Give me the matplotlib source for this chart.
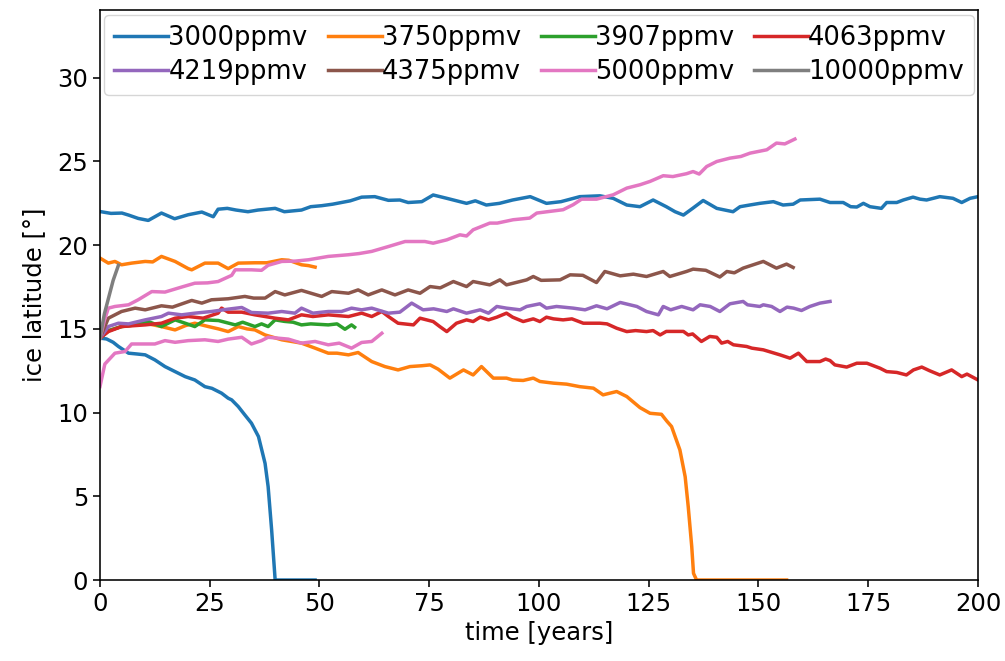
import numpy as np
import matplotlib
matplotlib.use('Agg')
import matplotlib.pyplot as plt

# ice latitude runs, two runs for most CO2 levels
t_3000a = [0, 2.5, 5, 6.5, 8.7, 11, 12.5, 14, 15.5, 17, 20.1, 23.2, 25.8, 26.9, 29, 31, 33.7, 36, 39.9, 42,
           45.9, 48, 50.5, 53, 55, 57, 59.6, 62.6, 65.7, 68.3, 70.2, 73.3, 75.9, 79, 83.5, 85.5, 88, 91, 94,
           98, 101.7, 105, 109.3, 113.9, 116.9, 120, 123, 126, 129, 131, 132.9, 135, 137.4, 140.5, 144.2,
           145.8, 148, 150.3, 153.4, 155.6, 157.9, 159.5, 164, 166.3, 169.3, 171, 172.4, 173.9, 175.4, 178,
           179.2, 181.5, 183, 185.2, 186.8, 188.3, 191.3, 194.3, 196.3, 198.2, 200]
y_3000a = [22.01, 21.9, 21.92, 21.8, 21.6, 21.48, 21.7, 21.92, 21.75, 21.58, 21.82, 21.98, 21.7, 22.15, 22.2,
           22.1, 22.0, 22.1, 22.2, 22.0, 22.1, 22.3, 22.36, 22.45, 22.55, 22.65, 22.87, 22.9, 22.68, 22.7,
           22.55, 22.6, 23.0, 22.8, 22.5, 22.65, 22.4, 22.5, 22.7, 22.9, 22.5, 22.6, 22.9, 22.95, 22.8, 22.4,
           22.3, 22.7, 22.3, 22.0, 21.8, 22.2, 22.67, 22.2, 22.0, 22.3, 22.4, 22.5, 22.6, 22.4, 22.45, 22.7,
           22.75, 22.55, 22.55, 22.3, 22.28, 22.5, 22.3, 22.2, 22.55, 22.55, 22.7, 22.87, 22.75, 22.7, 22.9,
           22.8, 22.55, 22.8, 22.9]

t_3000b = [0, 1.5, 3, 4.2, 6.5, 8.5, 10.3, 12.5, 14.8, 17.1, 19.4, 21.6, 23.9, 25.5, 27.7, 29.2, 30, 31.5,
           33, 34.5, 36.1, 37.6, 38.3, 39.1, 39.9, 49]
y_3000b = [14.45, 14.4, 14.2, 13.95, 13.55, 13.5, 13.45, 13.15, 12.75, 12.45, 12.15, 11.95, 11.55, 11.45,
           11.16, 10.86, 10.76, 10.36, 9.86, 9.37, 8.57, 6.97, 5.58, 2.99, 0, 0]

t_3750a = [0, 1.9, 3.4, 4.9, 7.2, 10.3, 12, 14, 17.1, 20.1, 20.9, 23.9, 26.9, 29.2, 31.5, 35.3, 38, 41.4,
           43, 45.9, 47.5, 49]
y_3750a = [19.23, 18.93, 19.03, 18.83, 18.93, 19.03, 19.0, 19.33, 19.03, 18.6, 18.53, 18.93, 18.93, 18.6,
           18.93, 18.95, 18.95, 19.13, 19.1, 18.83, 18.78, 18.69]

t_3750b = [0, 2, 4.9, 8, 11, 14, 17.1, 19.5, 21.6, 24.7, 27, 29.2, 31.5, 33.5, 35.3, 37.6, 41.4, 45.9, 49,
           52, 54, 56.6, 58.8, 61.9, 64.9, 67.9, 70.6, 73.3, 75.2, 77, 79.7, 82.8, 85, 86.9, 89.6, 92.6, 94,
           96.4, 98.7, 100.2, 103.3, 106.3, 109.3, 112.4, 114.6, 117.7, 120, 123, 125.3, 127.9, 129.1,
           130.2, 132.1, 133.3, 134, 134.8, 135.2, 135.9, 156.4]
y_3750b = [14.45, 14.9, 15.14, 15.24, 15.3, 15.14, 14.94, 15.2, 15.34, 15.14, 15.0, 14.84, 15.14, 15.0,
           14.94, 14.64, 14.35, 14.15, 13.85, 13.55, 13.55, 13.45, 13.59, 13.05, 12.75, 12.55, 12.75, 12.8,
           12.85, 12.6, 12.06, 12.55, 12.25, 12.75, 12.06, 12.06, 11.95, 11.92, 12.06, 11.86, 11.76, 11.7,
           11.55, 11.46, 11.06, 11.26, 10.96, 10.3, 9.96, 9.9, 9.5, 9.17, 7.77, 6.17, 4.38, 1.99, 0.4, 0, 0]

t_3907 = [0, 2, 4.9, 8, 11, 14, 17.1, 19.4, 21.6, 23.9, 27, 30.8, 32.5, 35.3, 36.8, 38.3, 39.9, 42, 44,
          45.9, 48, 52, 54, 55.8, 57.3, 58]
y_3907 = [14.45, 14.9, 15.14, 15.24, 15.44, 15.14, 15.54, 15.34, 15.14, 15.54, 15.5, 15.24, 15.4, 15.14,
          15.3, 15.14, 15.54, 15.45, 15.4, 15.24, 15.3, 15.24, 15.3, 14.98, 15.24, 15.1]

t_4063 = [0, 1.9, 4.9, 10.3, 14, 17.1, 20.1, 23.5, 26.9, 27.7, 29.2, 32.3, 35.3, 39.9, 42.9, 45.9, 48.5,
          52, 56.6, 59.6, 61.9, 64.2, 65.7, 67.9, 71.4, 72.9, 75.9, 77.4, 79, 81.2, 83.5, 85, 86.6, 88.5,
          90.4, 92.6, 94, 96.4, 98.7, 100.2, 101.7, 103.3, 105.5, 107.5, 110.1, 113.9, 115.5, 117.7, 120,
          122, 124.5, 126, 127.6, 129, 132.9, 134, 135, 137, 138.9, 140.5, 141.6, 143, 144.3, 147.3, 148.5,
          151.1, 154.9, 157.2, 159.1, 161, 164, 165.3, 166.3, 167.4, 170.1, 172.4, 174.7, 177.7, 179.2,
          181.5, 183.7, 185.3, 187.2, 189, 191.3, 194, 196.3, 197.5, 200]
y_4063 = [14.45, 14.84, 15.14, 15.24, 15.34, 15.64, 15.74, 15.64, 15.94, 16.24, 16.0, 16.0, 15.84, 15.64,
          15.54, 15.84, 15.74, 15.84, 15.74, 15.94, 15.74, 16.04, 15.74, 15.34, 15.24, 15.64, 15.44, 15.14,
          14.84, 15.34, 15.54, 15.44, 15.7, 15.54, 15.7, 15.94, 15.7, 15.44, 15.6, 15.44, 15.7, 15.6, 15.54,
          15.6, 15.34, 15.34, 15.3, 15.04, 14.84, 14.9, 14.84, 14.9, 14.64, 14.85, 14.85, 14.64, 14.7,
          14.25, 14.55, 14.5, 14.15, 14.25, 14.05, 13.95, 13.85, 13.75, 13.45, 13.25, 13.55, 13.05, 13.05,
          13.2, 13.11, 12.85, 12.72, 12.95, 12.95, 12.65, 12.45, 12.4, 12.25, 12.55, 12.72, 12.5, 12.25,
          12.55, 12.15, 12.3, 11.95]

t_4219 = [0, 1.9, 4.2, 6.5, 10.3, 14, 15.6, 18.6, 21.6, 25.4, 29.2, 32.3, 34.5, 38.3, 41.4, 44.4, 45.9,
          48.5, 52, 55, 57.3, 59.6, 61.9, 65.7, 68.3, 71, 73.6, 76, 79, 80.5, 83.5, 86.6, 88.5, 90.4, 92.6,
          95.7, 97.2, 100.2, 101.7, 104, 107.8, 110.5, 113.1, 115.5, 118.5, 122.3, 124.5, 127.2, 128.3, 130,
          132.5, 135.1, 136.7, 139, 141.2, 143.5, 146.5, 147.5, 150.3, 151.1, 153, 154.9, 156.5, 158, 159.8,
          161.7, 164, 166.3]
y_4219 = [14.45, 15.14, 15.34, 15.3, 15.54, 15.74, 15.94, 15.84, 15.94, 16.04, 16.18, 16.28, 15.98, 15.94,
          16.04, 15.94, 16.24, 15.94, 16.04, 16.04, 16.24, 16.14, 16.24, 15.94, 16.0, 16.54, 16.14, 16.2,
          16.04, 16.2, 15.94, 16.14, 15.94, 16.34, 16.24, 16.14, 16.34, 16.5, 16.24, 16.34, 16.24, 16.14,
          16.38, 16.2, 16.58, 16.34, 16.04, 15.84, 16.34, 16.14, 16.34, 16.14, 16.44, 16.34, 16.04, 16.5,
          16.64, 16.44, 16.34, 16.44, 16.34, 16.04, 16.3, 16.24, 16.1, 16.34, 16.54, 16.64]

t_4375 = [0, 1.9, 4.9, 8, 10.3, 14, 16.5, 20.9, 23.2, 25.4, 29.2, 33, 35, 37.6, 39.9, 42.1, 45.9, 50.5,
          52.8, 56.6, 58.8, 61.1, 64.2, 67.2, 70.2, 72.9, 75.2, 77.5, 80.5, 83.5, 85, 88.8, 91.1, 92.6, 97.2,
          98.7, 100.5, 104.8, 107.1, 110, 113.1, 115, 118.5, 121.5, 124.5, 128.3, 129.8, 133.6, 135.1, 138,
          141.2, 142.8, 144.5, 146.5, 151.1, 154.1, 156.4, 157.9]
y_4375 = [14.45, 15.64, 16.04, 16.24, 16.14, 16.38, 16.3, 16.7, 16.54, 16.74, 16.8, 16.94, 16.84, 16.84,
          17.23, 17.03, 17.3, 16.94, 17.23, 17.13, 17.33, 17.03, 17.33, 17.03, 17.33, 17.13, 17.53, 17.45,
          17.83, 17.53, 17.83, 17.63, 17.93, 17.63, 17.93, 18.13, 17.9, 17.93, 18.23, 18.2, 17.77, 18.43,
          18.17, 18.27, 18.13, 18.43, 18.13, 18.43, 18.57, 18.5, 18.1, 18.43, 18.35, 18.63, 19.03, 18.63,
          18.87, 18.67]

t_5000a = [0, 1, 1.9, 3.4, 6.5, 8.7, 11.8, 14.8, 18.6, 21.6, 24.5, 26.9, 30, 30.8, 34.5, 36.8, 38.3, 41.4,
           44.5, 47.5, 52, 56.6, 59, 61.9, 65.7, 69.5, 71.4, 74, 75.9, 79, 82, 83.5, 85, 88.8, 90.5, 94.1,
           97.9, 99.5, 102.5, 105.5, 107.8, 109.7, 113.1, 116.9, 120, 123, 125.3, 128.3, 130.5, 133.6,
           135.1, 136.5, 138.2, 140.5, 143.5, 146, 148.1, 151.9, 154.1, 156, 158.3]
y_5000a = [14.45, 15.5, 16.24, 16.34, 16.44, 16.74, 17.23, 17.2, 17.5, 17.73, 17.75, 17.83, 18.2, 18.53,
           18.53, 18.5, 18.8, 19.03, 19.05, 19.13, 19.33, 19.43, 19.5, 19.63, 19.92, 20.22, 20.22, 20.22,
           20.12, 20.32, 20.62, 20.55, 20.92, 21.32, 21.32, 21.52, 21.62, 21.92, 22.02, 22.12, 22.42, 22.75,
           22.75, 23.01, 23.41, 23.61, 23.81, 24.15, 24.1, 24.27, 24.4, 24.25, 24.7, 25.0, 25.2, 25.3, 25.5,
           25.7, 26.1, 26.05, 26.34]

t_5000b = [0, 1.1, 3.4, 5.7, 7.2, 10.3, 12.5, 14.8, 17.1, 20.1, 23.9, 26.9, 29.2, 32.3, 34.5, 36.8, 38.3,
           42.9, 45.9, 49, 52, 54.5, 57.3, 59.6, 61.9, 64.2]
y_5000b = [11.56, 12.9, 13.55, 13.65, 14.1, 14.1, 14.1, 14.3, 14.2, 14.3, 14.35, 14.25, 14.39, 14.5, 14.1,
           14.3, 14.5, 14.39, 14.15, 14.25, 14.05, 14.15, 13.85, 14.19, 14.25, 14.74]

t_10000 = [0, 1, 2, 3, 4.2]
y_10000 = [14.45, 15.9, 16.9, 17.9, 18.8]

labels = ['3000ppmv', '3750ppmv', '3907ppmv', '4063ppmv', '4219ppmv', '4375ppmv', '5000ppmv', '10000ppmv']
runs = [
    [(t_3000a, y_3000a), (t_3000b, y_3000b)],
    [(t_3750a, y_3750a), (t_3750b, y_3750b)],
    [(t_3907, y_3907)],
    [(t_4063, y_4063)],
    [(t_4219, y_4219)],
    [(t_4375, y_4375)],
    [(t_5000a, y_5000a), (t_5000b, y_5000b)],
    [(t_10000, y_10000)],
]

plt.rcParams['axes.linewidth'] = 1.15
fig = plt.figure(figsize=(10.05, 6.61), dpi=100)
ax = fig.add_axes([0.0995, 0.1225, 0.8736, 0.8624])

handles = []
for i, (lab, group) in enumerate(zip(labels, runs)):
    for j, (t, y) in enumerate(group):
        ln, = ax.plot(t, y, color='C%d' % i, lw=2.5)
        if j == 0:
            handles.append(ln)

ax.set_xlim(0, 200)
ax.set_ylim(0, 34.05)
ax.set_yticks([0, 5, 10, 15, 20, 25, 30])
ax.tick_params(labelsize=17.5, width=1.15, length=5)
ax.set_xlabel('time [years]', fontsize=17.5, labelpad=4)
ax.set_ylabel('ice latitude [°]', fontsize=17.5, labelpad=8)

# legend reads row by row: 4 columns, 2 rows
order = [0, 4, 1, 5, 2, 6, 3, 7]
ax.legend([handles[k] for k in order], [labels[k] for k in order],
          loc='upper center', ncol=4, fontsize=18.5, handlelength=2.1, handletextpad=0.0,
          columnspacing=0.78, borderaxespad=0.2, labelspacing=0.3, borderpad=0.4)

fig.savefig('out.png', dpi=100)
